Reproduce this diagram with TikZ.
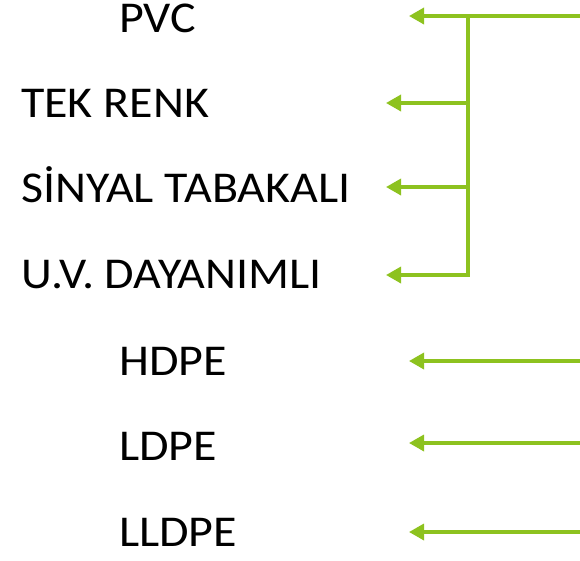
\documentclass[tikz,border=0pt]{standalone}
\usepackage{fontspec}
\setmainfont{Carlito}[FakeStretch=1.09]
\usetikzlibrary{arrows.meta}
\definecolor{lgreen}{RGB}{141,194,31}
\begin{document}
\begin{tikzpicture}[x=1pt,y=-1pt,
  lbl/.style={anchor=base west,inner sep=0pt,font=\fontsize{44}{50}\selectfont},
  conn/.style={draw=lgreen,line width=3.4pt,-{Triangle[length=15pt,width=16pt]}},
  plain/.style={draw=lgreen,line width=3.4pt}]
\useasboundingbox (0,0) rectangle (580,560);
% labels
\node[lbl] (pvc) at (119,32) {PVC};
\node[lbl] (tek) at (21,117) {TEK RENK};
\node[lbl] (sin) at (21,202) {SİNYAL TABAKALI};
\node[lbl] (uv)  at (21,288) {U.V. DAYANIMLI};
\node[lbl] (hdpe) at (119,375) {HDPE};
\node[lbl] (ldpe) at (119,460) {LDPE};
\node[lbl] (lldpe) at (119,546) {LLDPE};
% coordinates
\coordinate (s1) at (581,16);
\coordinate (t1) at (409,16);
\coordinate (j) at (468,16);
\coordinate (j2) at (468,103);
\coordinate (j3) at (468,187);
\coordinate (j4) at (468,275);
\coordinate (t2) at (386,103);
\coordinate (t3) at (386,187);
\coordinate (t4) at (386,275);
\coordinate (s5) at (581,361);
\coordinate (t5) at (409,361);
\coordinate (s6) at (581,443);
\coordinate (t6) at (409,443);
\coordinate (s7) at (581,532);
\coordinate (t7) at (409,532);
% connectors
\draw[conn] (s1) -- (t1);
\draw[plain,line cap=rect] (j) -- (j4);
\draw[conn] (j2) -- (t2);
\draw[conn] (j3) -- (t3);
\draw[conn] (j4) -- (t4);
\draw[conn] (s5) -- (t5);
\draw[conn] (s6) -- (t6);
\draw[conn] (s7) -- (t7);
\end{tikzpicture}
\end{document}
